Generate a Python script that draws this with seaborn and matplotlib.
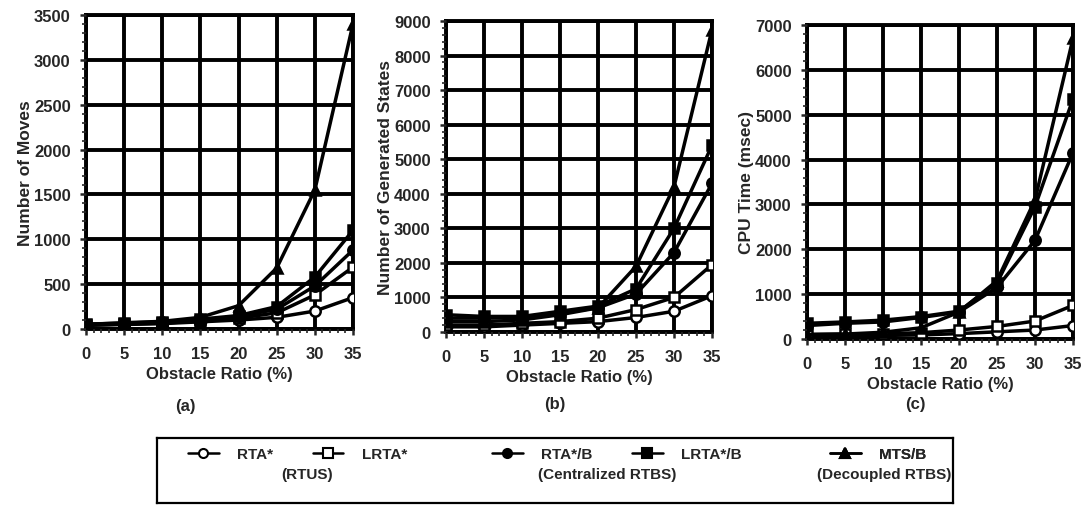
import numpy as np
import pandas as pd
import seaborn as sns
import matplotlib.pyplot as plt
from matplotlib.ticker import MultipleLocator
from matplotlib.lines import Line2D

sns.set_style("white")
plt.rcParams['font.family'] = ['Liberation Sans', 'DejaVu Sans']
plt.rcParams['font.weight'] = 'bold'
plt.rcParams['axes.labelweight'] = 'bold'

# 数据
ratio = [0, 5, 10, 15, 20, 25, 30, 35]
methods = ["RTA*", "LRTA*", "RTA*/B", "LRTA*/B", "MTS/B"]

# (a) Number of Moves
moves_rta = [40, 50, 60, 80, 100, 130, 200, 350]
moves_lrta = [45, 55, 65, 90, 120, 180, 380, 690]
moves_rtab = [50, 60, 75, 100, 140, 220, 480, 880]
moves_lrtab = [55, 65, 80, 110, 150, 250, 580, 1100]
moves_mts = [50, 70, 85, 130, 260, 680, 1550, 3400]

# (b) Number of Generated States
states_rta = [150, 150, 200, 250, 300, 420, 600, 1050]
states_lrta = [200, 200, 250, 300, 400, 650, 1000, 1950]
states_rtab = [400, 400, 420, 550, 700, 1100, 2300, 4300]
states_lrtab = [500, 450, 450, 600, 750, 1250, 3000, 5400]
states_mts = [300, 300, 350, 500, 700, 1900, 4200, 8750]

# (c) CPU Time (msec)
cpu_rta = [60, 70, 80, 90, 120, 160, 200, 300]
cpu_lrta = [100, 110, 120, 140, 200, 280, 400, 750]
cpu_rtab = [300, 350, 380, 480, 600, 1150, 2200, 4150]
cpu_lrtab = [350, 380, 420, 500, 620, 1250, 2950, 5350]
cpu_mts = [100, 110, 150, 250, 600, 1300, 3100, 6700]

panels = [
    ("Number of Moves", [moves_rta, moves_lrta, moves_rtab, moves_lrtab, moves_mts], 3500, 500, 100, "(a)"),
    ("Number of Generated States", [states_rta, states_lrta, states_rtab, states_lrtab, states_mts], 9000, 1000, 200, "(b)"),
    ("CPU Time (msec)", [cpu_rta, cpu_lrta, cpu_rtab, cpu_lrtab, cpu_mts], 7000, 1000, 200, "(c)"),
]

marker_of = {"RTA*": "o", "LRTA*": "s", "RTA*/B": "o", "LRTA*/B": "s", "MTS/B": "^"}
fill_of = {"RTA*": "white", "LRTA*": "white", "RTA*/B": "black", "LRTA*/B": "black", "MTS/B": "black"}

# 每个子图的位置 (像素换算)
W, H = 1082, 506
boxes = [(86, 353, 16, 330), (446, 712, 22, 333), (807, 1073, 26, 340)]
label_xy = [(185, 407), (555, 404), (915, 404)]
FS = 12
LFS = 11

fig = plt.figure(figsize=(W / 100, H / 100), dpi=100)

for (ylab, series, ymax, ymaj, ymin, tag), (l, r, t, b), (tx, ty) in zip(panels, boxes, label_xy):
    ax = fig.add_axes([l / W, 1 - b / H, (r - l) / W, (b - t) / H])
    df = pd.DataFrame({"ratio": ratio * len(methods),
                       "method": np.repeat(methods, len(ratio)),
                       "value": np.concatenate(series)})
    for m in methods:
        sns.lineplot(data=df[df.method == m], x="ratio", y="value", ax=ax,
                     color="black", lw=2.5, marker=marker_of[m], ms=7.5,
                     mfc=fill_of[m], mec="black", mew=1.8, zorder=3)
    ax.set_xlim(0, 35)
    ax.set_ylim(0, ymax)
    ax.xaxis.set_major_locator(MultipleLocator(5))
    ax.xaxis.set_minor_locator(MultipleLocator(1))
    ax.yaxis.set_major_locator(MultipleLocator(ymaj))
    ax.yaxis.set_minor_locator(MultipleLocator(ymin))
    ax.grid(True, which="major", color="black", lw=2.8)
    for s in ax.spines.values():
        s.set_color("black")
        s.set_linewidth(2.8)
    ax.tick_params(which="major", length=4, width=1.8, labelsize=FS,
                   left=True, bottom=True)
    ax.tick_params(axis="x", which="major", pad=8)
    ax.tick_params(axis="y", which="major", pad=7)
    ax.tick_params(which="minor", length=3, width=1.2, left=True, bottom=True)
    for lbl in ax.get_xticklabels() + ax.get_yticklabels():
        lbl.set_fontweight("bold")
    ax.set_xlabel("Obstacle Ratio (%)", fontsize=FS, fontweight="bold", labelpad=4)
    ax.set_ylabel(ylab, fontsize=12.5, fontweight="bold", labelpad=1)
    ax.set_axisbelow(False)
    fig.text(tx / W, 1 - ty / H, tag, ha="center", va="center", fontsize=FS, fontweight="bold")

# 图例框
lx0, lx1, ly0, ly1 = 157, 953, 439, 504
lax = fig.add_axes([lx0 / W, 1 - ly1 / H, (lx1 - lx0) / W, (ly1 - ly0) / H])
lax.set_xlim(0, 1)
lax.set_ylim(0, 1)
lax.set_xticks([])
lax.set_yticks([])
for s in lax.spines.values():
    s.set_color("black")
    s.set_linewidth(1.6)

def handle(m):
    return Line2D([], [], color="black", lw=1.8, marker=marker_of[m], ms=6.5,
                  mfc=fill_of[m], mec="black", mew=1.5)

groups = [(["RTA*", "LRTA*"], "(RTUS)", 188, 307),
          (["RTA*/B", "LRTA*/B"], "(Centralized RTBS)", 492, 607),
          (["MTS/B"], "(Decoupled RTBS)", 830, 884)]
for names, gname, x_leg, x_txt in groups:
    leg = lax.legend([handle(n) for n in names], names, ncol=len(names),
                     loc="center left", bbox_to_anchor=((x_leg - lx0) / (lx1 - lx0), 0.75),
                     frameon=False, handlelength=2.0, handletextpad=1.2,
                     columnspacing=2.6, borderaxespad=0, borderpad=0,
                     prop={"weight": "bold", "size": LFS})
    lax.add_artist(leg)
    lax.text((x_txt - lx0) / (lx1 - lx0), 0.45, gname, ha="center", va="center",
             fontsize=LFS, fontweight="bold")

plt.savefig("out.png", dpi=100)
